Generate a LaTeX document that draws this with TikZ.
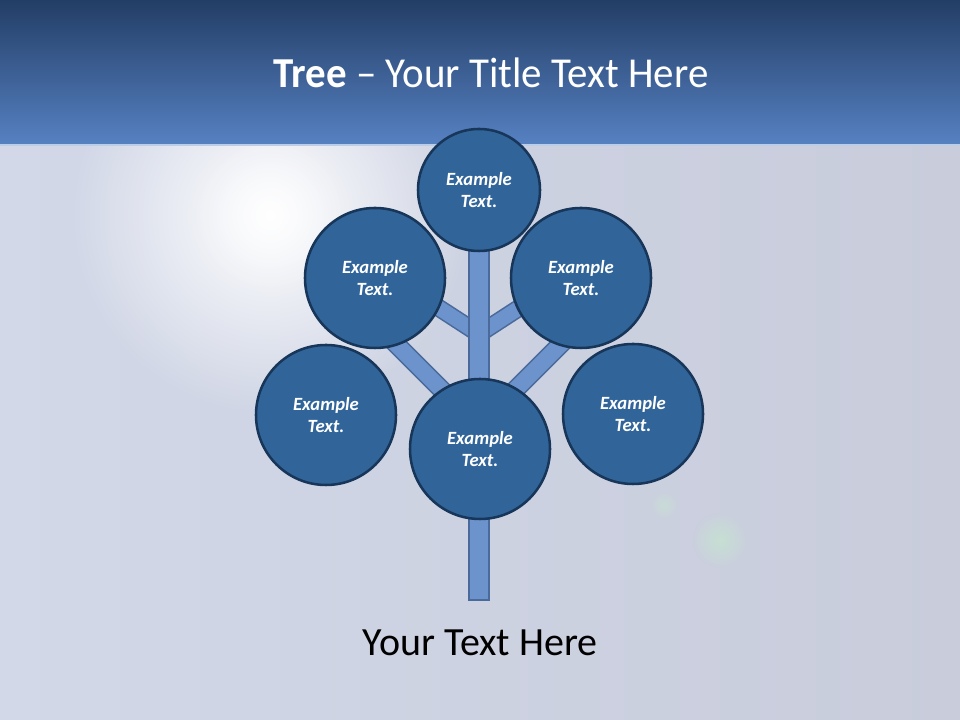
\documentclass[tikz,border=0pt]{standalone}
\usepackage{fontspec}
\setmainfont{Carlito}
\usetikzlibrary{fadings}
\definecolor{bgleft}{HTML}{D2D8E8}
\definecolor{bgright}{HTML}{C8CCDB}
\definecolor{headtop}{HTML}{233E66}
\definecolor{headbot}{HTML}{5681C2}
\definecolor{leaffill}{HTML}{31659A}
\definecolor{leafline}{HTML}{173659}
\definecolor{branchfill}{HTML}{6C93CB}
\definecolor{branchline}{HTML}{4A6A9C}
\tikzfading[name=glow,inner color=transparent!0,outer color=transparent!100]
\tikzset{
  leaf/.style={circle,draw=leafline,fill=leaffill,line width=1.9pt,minimum size=105pt,inner sep=0pt,
    text=white,align=center,font=\fontsize{14}{16.5}\selectfont\bfseries\itshape},
  branch/.style={draw=branchline,line width=1.2pt,double=branchfill,double distance=11pt},
  trunk/.style={branch,double distance=14pt}
}
\begin{document}
\begin{tikzpicture}[x=0.75pt,y=0.75pt]
\useasboundingbox (0,0) rectangle (960,720);
% sky
\shade[left color=bgleft,right color=bgright] (0,0) rectangle (960,720);
\fill[white,path fading=glow] (270,505) circle (200);
\fill[white,path fading=glow,opacity=0.5] (270,505) circle (80);
\fill[white!75!green,path fading=glow,opacity=0.35] (720,180) circle (28);
\fill[white!75!green,path fading=glow,opacity=0.25] (664,215) circle (14);
% title band
\shade[top color=headtop,bottom color=headbot] (0,575) rectangle (960,720);
\draw[headbot!40!white,line width=1pt] (0,575) -- (960,575);
\node[anchor=base,text=white,font=\fontsize{32}{38}\selectfont] (title) at (491,632) {\scalebox{0.96}[1]{\textbf{Tree} – Your Title Text Here}};
% places of the leaves
\coordinate (top) at (479,530);
\coordinate (ul) at (375,442);
\coordinate (ur) at (581,442);
\coordinate (lf) at (326,305);
\coordinate (rt) at (633,306);
\coordinate (mid) at (480,271);
\coordinate (root) at (479,120);
\coordinate (crown) at (479,500);
\coordinate (fork) at (479,386);
\path (fork) ++(147:118) coordinate (ulknot);
\path (fork) ++(33:118) coordinate (urknot);
\coordinate (lstart) at (480,292);
\coordinate (lknot) at (370,402);
\coordinate (rstart) at (479,294);
\coordinate (rknot) at (589,404);
% branches and trunk
\draw[branch] (fork) -- (ulknot);
\draw[branch] (fork) -- (urknot);
\draw[branch,double distance=12pt] (lstart) -- (lknot);
\draw[branch,double distance=12pt] (rstart) -- (rknot);
\draw[trunk] (root) -- (crown);
\draw[branchline,line width=1.2pt] ([xshift=-8.2pt]root) -- ([xshift=8.2pt]root);
% leaves
\node[leaf,minimum size=91.5pt] (topleaf) at (top) {Example\\Text.};
\node[leaf] (ulleaf) at (ul) {Example\\Text.};
\node[leaf] (urleaf) at (ur) {Example\\Text.};
\node[leaf] (lfleaf) at (lf) {Example\\Text.};
\node[leaf] (rtleaf) at (rt) {Example\\Text.};
\node[leaf] (midleaf) at (mid) {Example\\Text.};
\node[anchor=base,font=\fontsize{30}{36}\selectfont] (caption) at (480,64) {Your Text Here};
\end{tikzpicture}
\end{document}
